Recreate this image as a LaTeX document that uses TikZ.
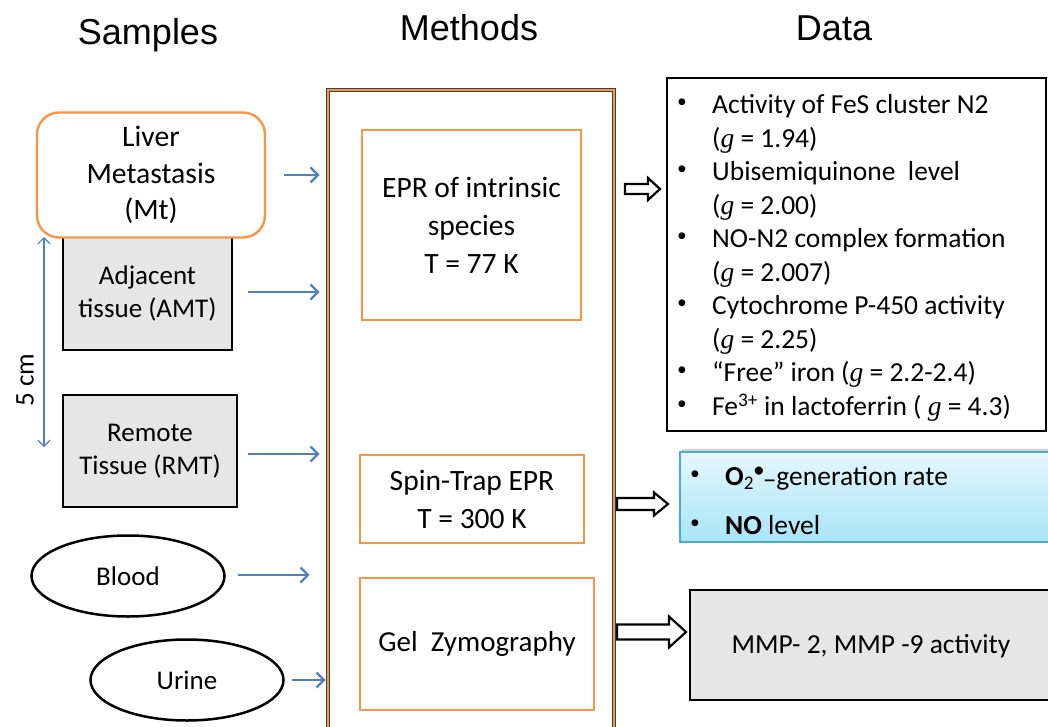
\documentclass[tikz,border=0pt]{standalone}
\usepackage{fontspec}
\setmainfont{Carlito}
\newfontfamily\hdrfont{Liberation Sans}
\newfontfamily\serifg{Liberation Serif}
\usetikzlibrary{arrows.meta,shadows,shapes.geometric}
\definecolor{orng}{HTML}{F79646}
\definecolor{arrblue}{HTML}{4F81BD}
\definecolor{teal1}{HTML}{4BACC6}
\definecolor{ltblueT}{HTML}{E6F8FD}
\definecolor{ltblueB}{HTML}{A8E4F7}
\definecolor{texgray}{HTML}{E6E6E6}
\newcommand{\gv}{{\serifg\itshape g}}
\newcommand{\hollowarrow}[6]{%
  \draw[hollow] (#1,#3-#4) -- (#2-#6,#3-#4) -- (#2-#6,#3-#5) -- (#2,#3) -- (#2-#6,#3+#5) -- (#2-#6,#3+#4) -- (#1,#3+#4) -- cycle;}
\begin{document}
\begin{tikzpicture}[x=1pt,y=-1pt,
 hdr/.style={font=\hdrfont\fontsize{36}{40}\selectfont, inner sep=0},
 sbox/.style={draw=black, line width=2.5, fill=texgray, align=center, font=\fontsize{27}{33}\selectfont},
 mbox/.style={draw=orng, line width=2, fill=white, align=center, font=\fontsize{29.5}{38}\selectfont},
 ell/.style={ellipse, draw, line width=2.5, minimum width=193, minimum height=81, inner sep=0, font=\fontsize{27}{30}\selectfont},
 barr/.style={arrblue, line width=2.4, -{Straight Barb[length=7.5,width=15,line width=2.2]}},
 thinarr/.style={arrblue, line width=1.2, {Straight Barb[length=6,width=12,line width=1.2]}-{Straight Barb[length=6,width=12,line width=1.2]}},
 dline/.style={anchor=west, font=\fontsize{27.5}{30}\selectfont, text height=17.7, text depth=0, inner sep=0},
 bul/.style={anchor=center, font=\hdrfont\fontsize{25}{28}\selectfont, inner sep=0},
 hollow/.style={draw=black, line width=2.2, fill=white},
]
\useasboundingbox (0,0) rectangle (1048,727);
\clip (0,0) rectangle (1048,727);
\fill[white] (0,0) rectangle (1048,727);

% headers
\node[hdr] (hs) at (148,35) {Samples};
\node[hdr] (hm) at (469,28) {Methods};
\node[hdr] (hd) at (834,28) {Data};

% methods frame
\node[draw=black!75, double=orng, double distance=1.6, line width=0.9, minimum width=286, minimum height=700] (meth) at (471,440) {};

% samples
\node[sbox, minimum width=169, minimum height=114] (amt) at (147.5,293) {Adjacent\\tissue (AMT)};
\node[draw=orng, line width=2.4, fill=white, rounded corners=22, minimum width=228, minimum height=125, align=center, font=\fontsize{29.7}{36.5}\selectfont] (mt) at (151,175) {Liver\\Metastasis\\(Mt)};
\node[sbox, minimum width=174, minimum height=112] (rmt) at (150,451) {Remote\\Tissue (RMT)};
\node[ell] (blood) at (128,576) {Blood};
\node[ell] (urine) at (187,680) {Urine};

% 5 cm
\coordinate (c1) at (44,237);
\coordinate (c2) at (44,447);
\draw[thinarr] (c1) -- (c2);
\node[rotate=90, font=\fontsize{27}{30}\selectfont] (fivecm) at (25,380) {5 cm};

% methods boxes
\node[mbox, minimum width=219, minimum height=190] (epr) at (471.5,225) {EPR of intrinsic\\species\\T = 77 K};
\node[mbox, minimum width=224, minimum height=88] (spin) at (472,499) {Spin-Trap EPR\\T = 300 K};
\node[mbox, font=\fontsize{29}{38}\selectfont, minimum width=234, minimum height=132] (gel) at (477,644) {Gel\ \ Zymography};

% blue arrows
\draw[barr] ([xshift=18]mt.east) -- ([xshift=-8]mt.east -| meth.west);
\draw[barr] ([xshift=15]amt.east |- 0,292) -- ([xshift=-8]meth.west |- 0,292);
\draw[barr] ([xshift=10]rmt.east |- 0,454) -- ([xshift=-8]meth.west |- 0,454);
\draw[barr] ([xshift=12]blood.east |- 0,575) -- ([xshift=-18]meth.west |- 0,575);
\draw[barr] ([xshift=7]urine.east |- 0,680) -- ([xshift=-2]meth.west |- 0,680);

% data boxes
\node[draw=black, line width=2.5, fill=white, minimum width=379, minimum height=353] (d1) at (856.5,254.5) {};
\node[draw=teal1, line width=1.5, top color=ltblueT, bottom color=ltblueB, drop shadow={shadow xshift=2, shadow yshift=-3, opacity=0.35}, minimum width=380, minimum height=90] (d2) at (870,497) {};
\node[draw=black, line width=2.5, fill=texgray, minimum width=380, minimum height=110] (d3) at (880,645) {};

% hollow arrows
\hollowarrow{625}{660}{189}{5}{11}{12}
\hollowarrow{617}{668}{504}{6}{11.5}{14}
\hollowarrow{617}{686}{632}{7.5}{15.5}{17}

% data text
\node[bul] (b1) at (682,105) {•};
\node[dline] (t1) at (712,105) {Activity of FeS cluster N2};
\node[dline] (t2) at (712,138.5) {(\gv{} = 1.94)};
\node[bul] (b3) at (682,172) {•};
\node[dline] (t3) at (712,172) {Ubisemiquinone\ \ level};
\node[dline] (t4) at (712,205.5) {(\gv{} = 2.00)};
\node[bul] (b5) at (682,239) {•};
\node[dline] (t5) at (712,239) {NO-N2 complex formation};
\node[dline] (t6) at (712,272.5) {(\gv{} = 2.007)};
\node[bul] (b7) at (682,306) {•};
\node[dline] (t7) at (712,306) {Cytochrome P-450 activity};
\node[dline] (t8) at (712,339.5) {(\gv{} = 2.25)};
\node[bul] (b9) at (682,373) {•};
\node[dline] (t9) at (712,373) {“Free” iron (\gv{} = 2.2-2.4)};
\node[bul] (b10) at (682,406.5) {•};
\node[dline] (t10) at (712,406.5) {Fe\textsuperscript{3+} in lactoferrin ( \gv{} = 4.3)};

\node[bul] (b11) at (695,477) {•};
\node[dline] (t11) at (725,477) {\textbf{O}\textsubscript{2}\textsuperscript{\textbf{•}}\kern-0.05em\raisebox{-0.1em}{–}generation rate};
\node[bul] (b12) at (695,526) {•};
\node[dline] (t12) at (725,526) {\textbf{NO} level};

\node[font=\fontsize{27.5}{30}\selectfont, inner sep=0] (mmp) at (871,646) {MMP- 2, MMP -9 activity};
\end{tikzpicture}
\end{document}
